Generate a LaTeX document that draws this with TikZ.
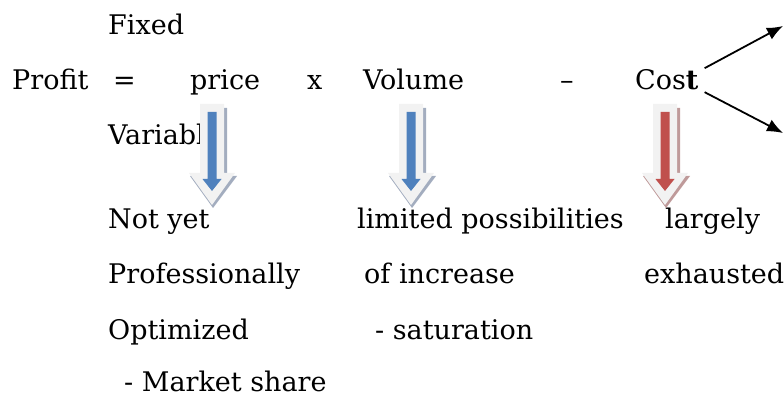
\documentclass[tikz,border=0pt]{standalone}
\usepackage{fontspec}
\setmainfont{DejaVu Serif}
\usetikzlibrary{arrows.meta}
\definecolor{ablue}{HTML}{4F81BD}
\definecolor{ared}{HTML}{C0504D}
\definecolor{alight}{HTML}{F2F2F2}
\definecolor{bshadow}{HTML}{A3ADBF}
\definecolor{rshadow}{HTML}{BF9A9A}
\newcommand\dnarrow[3]{%
  \fill[#3] (#1-12+3,104+4) -- (#1+12+3,104+4) -- (#1+12+3,173+3) -- (#1+23+2,173+3)
        -- (#1+1,205+3) -- (#1-23+1,173+3) -- (#1-12+3,173+3) -- cycle;
  \fill[alight] (#1-12,104) -- (#1+12,104) -- (#1+12,173) -- (#1+23,173)
        -- (#1,205) -- (#1-23,173) -- (#1-12,173) -- cycle;
  \fill[#2] (#1-4.5,112) -- (#1+4.5,112) -- (#1+4.5,179) -- (#1+9.5,179)
        -- (#1,191) -- (#1-9.5,179) -- (#1-4.5,179) -- cycle;
}
\tikzset{
  txt/.style={anchor=base west, inner sep=0pt, font=\rmfamily\fontsize{27}{32}\selectfont},
  costarrow/.style={line width=1.8pt, -{Latex[length=16pt,width=13pt]}}
}
\begin{document}
\begin{tikzpicture}[x=1pt,y=-1pt]
\useasboundingbox (0,0) rectangle (784,398);
\node[txt] (fixed) at (108,35) {Fixed};
\node[txt] (profit) at (12,90) {Profit};
\node[txt] (eq) at (113,90) {=};
\node[txt] (price) at (190,90) {price};
\node[txt] (times) at (307,90) {x};
\node[txt] (volume) at (363,90) {Volume};
\node[txt] (minus) at (560,90) {–};
\node[txt] (cost) at (635,90) {Cos\textbf{t}};
\node[txt] (variable) at (108,145) {Variable};
\node[txt] (notyet) at (108,229) {Not yet};
\node[txt] (limited) at (357,229) {limited possibilities};
\node[txt] (largely) at (665,229) {largely};
\node[txt] (prof) at (108,283) {Professionally};
\node[txt] (ofinc) at (364,283) {of increase};
\node[txt] (exh) at (644,283) {exhausted};
\node[txt] (opt) at (108,339) {Optimized};
\node[txt] (sat) at (375,339) {- saturation};
\node[txt] (mkt) at (124,391) {- Market share};
\dnarrow{212}{ablue}{bshadow}
\dnarrow{411}{ablue}{bshadow}
\dnarrow{665}{ared}{rshadow}
\coordinate (up) at (783,26);
\coordinate (down) at (783,133);
\draw[costarrow] ([xshift=6pt,yshift=12pt]cost.east) -- (up);
\draw[costarrow] ([xshift=6pt,yshift=-12pt]cost.east) -- (down);
\end{tikzpicture}
\end{document}
